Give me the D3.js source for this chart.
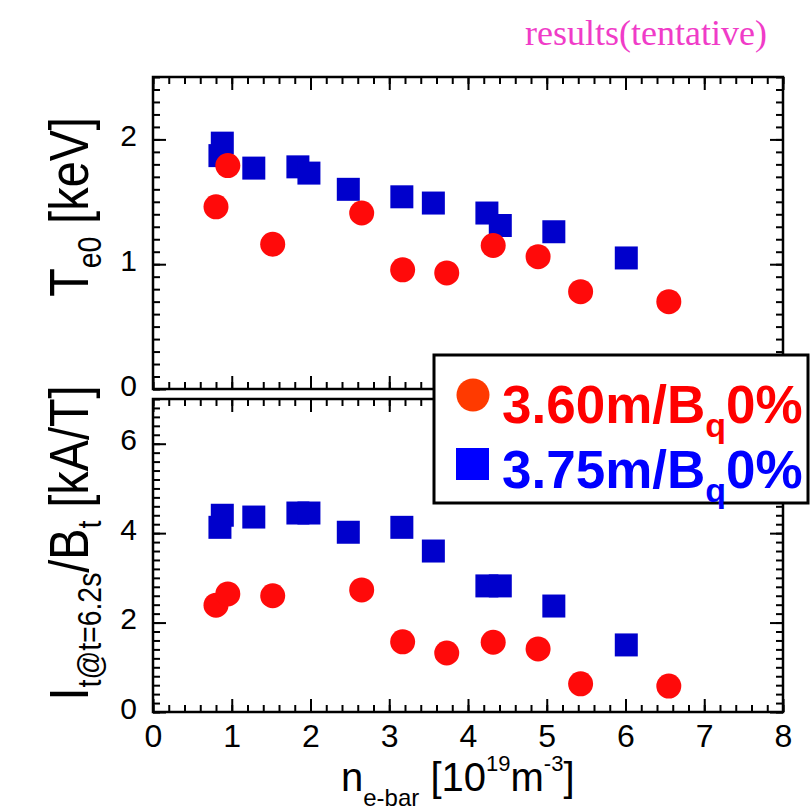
<!DOCTYPE html>
<html>
<head>
<meta charset="utf-8">
<script src="https://cdn.jsdelivr.net/npm/d3@7"></script>
<style>
  html, body { margin: 0; padding: 0; background: #fff; }
  svg { display: block; font-family: "Liberation Sans", Arial, sans-serif; }
</style>
</head>
<body>
<svg id="chart" width="812" height="811"></svg>
<script>
// Line-averaged density n_e-bar [10^19 m^-3]
const neRed  = [0.80, 0.95, 1.52, 2.65, 3.17, 3.73, 4.32, 4.89, 5.43, 6.55];
const te0Red = [1.46, 1.79, 1.16, 1.41, 0.955, 0.93, 1.15, 1.06, 0.78, 0.70];
const itRed  = [2.39, 2.64, 2.60, 2.73, 1.57, 1.32, 1.56, 1.41, 0.63, 0.58];

const neBlue  = [0.85, 0.88, 1.28, 1.84, 1.98, 2.48, 3.16, 3.56, 4.24, 4.41, 5.09, 6.01];
const te0Blue = [1.87, 1.97, 1.77, 1.78, 1.73, 1.60, 1.54, 1.49, 1.41, 1.31, 1.26, 1.05];
const itBlue  = [4.13, 4.40, 4.36, 4.45, 4.45, 4.02, 4.13, 3.60, 2.82, 2.82, 2.37, 1.50];

const xTicks = [0, 1, 2, 3, 4, 5, 6, 7, 8];
const teTicks = [0, 1, 2];
const itTicks = [0, 2, 4, 6];
const seriesNames = ["3.60m/B", "3.75m/B"];

const svg = d3.select("#chart");

const left = 153, right = 783;
const x = d3.scaleLinear().domain([0, 8]).range([left, right]);

const panels = [
  { top: 77,  bottom: 389, max: 2.5, minorStep: 0.1, ticks: teTicks, red: te0Red, blue: te0Blue },
  { top: 399, bottom: 712, max: 7.0, minorStep: 0.2, ticks: itTicks, red: itRed,  blue: itBlue }
];

const xMinor = d3.range(0, 41).map(i => +(i * 0.2).toFixed(2));

function styleAxis(g) {
  g.select(".domain").remove();
  g.selectAll(".tick line").attr("stroke", "#000").attr("stroke-width", 2);
  g.selectAll(".tick text").remove();
}

panels.forEach(p => {
  const y = d3.scaleLinear().domain([0, p.max]).range([p.bottom, p.top]);
  const nMinor = Math.round(p.max / p.minorStep);
  const yMinor = d3.range(0, nMinor + 1).map(i => +(i * p.minorStep).toFixed(2));

  const g = svg.append("g");

  // tick marks on all four sides, pointing inward
  [[d3.axisRight, left], [d3.axisLeft, right]].forEach(([ax, pos]) => {
    g.append("g").attr("transform", `translate(${pos},0)`)
      .call(ax(y).tickValues(yMinor).tickSize(7)).call(styleAxis);
    g.append("g").attr("transform", `translate(${pos},0)`)
      .call(ax(y).tickValues(p.ticks).tickSize(13)).call(styleAxis);
  });
  [[d3.axisBottom, p.top], [d3.axisTop, p.bottom]].forEach(([ax, pos]) => {
    g.append("g").attr("transform", `translate(0,${pos})`)
      .call(ax(x).tickValues(xMinor).tickSize(7)).call(styleAxis);
    g.append("g").attr("transform", `translate(0,${pos})`)
      .call(ax(x).tickValues(xTicks).tickSize(13)).call(styleAxis);
  });

  // frame
  g.append("rect")
    .attr("x", left).attr("y", p.top)
    .attr("width", right - left).attr("height", p.bottom - p.top)
    .attr("fill", "none").attr("stroke", "#000").attr("stroke-width", 2.5);

  // y tick labels
  const lab = g.append("g").attr("transform", `translate(${left},0)`)
    .call(d3.axisLeft(y).tickValues(p.ticks).tickSize(0).tickPadding(16).tickFormat(d3.format("d")));
  lab.select(".domain").remove();
  lab.selectAll("text")
    .attr("font-size", 30).attr("font-family", "Liberation Sans, Arial, sans-serif")
    .attr("fill", "#000").attr("dy", 6);

  // squares
  const sq = 23;
  g.append("g").selectAll("rect")
    .data(neBlue.map((v, i) => [v, p.blue[i]]))
    .join("rect")
    .attr("x", d => x(d[0]) - sq / 2).attr("y", d => y(d[1]) - sq / 2)
    .attr("width", sq).attr("height", sq)
    .attr("fill", "#0000cc");

  // circles
  g.append("g").selectAll("circle")
    .data(neRed.map((v, i) => [v, p.red[i]]))
    .join("circle")
    .attr("cx", d => x(d[0])).attr("cy", d => y(d[1]))
    .attr("r", 12.5)
    .attr("fill", "#ff0a0a");
});

// x tick labels under the lower panel
const xl = svg.append("g").attr("transform", `translate(0,${panels[1].bottom})`)
  .call(d3.axisBottom(x).tickValues(xTicks).tickSize(0).tickFormat(d3.format("d")));
xl.select(".domain").remove();
xl.selectAll("text")
  .attr("y", 35).attr("dy", 0)
  .attr("font-size", 32).attr("font-family", "Liberation Sans, Arial, sans-serif")
  .attr("fill", "#000");

// x axis title
const xt = svg.append("text")
  .attr("x", 341).attr("y", 791)
  .attr("font-size", 40).attr("fill", "#000");
xt.append("tspan").text("n");
xt.append("tspan").attr("font-size", 24).attr("dy", 15).text("e-bar");
xt.append("tspan").attr("dy", -15).text(" [10");
xt.append("tspan").attr("font-size", 22).attr("dy", -20).text("19");
xt.append("tspan").attr("dy", 20).text("m");
xt.append("tspan").attr("font-size", 22).attr("dy", -20).text("-3");
xt.append("tspan").attr("dy", 20).text("]");

// y axis titles (rotated)
function yTitle(cy, build) {
  const t = svg.append("g")
    .attr("transform", `translate(88,${cy}) rotate(-90) scale(0.835,1)`)
    .append("text")
    .attr("text-anchor", "middle")
    .attr("font-size", 56).attr("fill", "#000");
  build(t);
}
yTitle(207, t => {
  t.append("tspan").text("T");
  t.append("tspan").attr("font-size", 34).attr("dy", 13).text("e0");
  t.append("tspan").attr("dy", -13).text(" [keV]");
});
yTitle(543, t => {
  t.append("tspan").text("I");
  t.append("tspan").attr("font-size", 34).attr("dy", 13).text("t@t=6.2s");
  t.append("tspan").attr("dy", -13).text("/B");
  t.append("tspan").attr("font-size", 34).attr("dy", 13).text("t");
  t.append("tspan").attr("dy", -13).text(" [kA/T]");
});

// legend
const lg = svg.append("g").attr("transform", "translate(434,355)");
lg.append("rect").attr("width", 374).attr("height", 148)
  .attr("fill", "#fff").attr("stroke", "#000").attr("stroke-width", 3);
const legendItems = [
  { name: seriesNames[0], color: "#ff0000", mark: "circle", markColor: "#ff3a00", y: 68 },
  { name: seriesNames[1], color: "#0000ff", mark: "square", markColor: "#0000ff", y: 133 }
];
legendItems.forEach(it => {
  if (it.mark === "circle") {
    lg.append("circle").attr("cx", 39).attr("cy", it.y - 28).attr("r", 16.5).attr("fill", it.markColor);
  } else {
    lg.append("rect").attr("x", 22).attr("y", it.y - 40).attr("width", 33).attr("height", 32).attr("fill", it.markColor);
  }
  const t = lg.append("text").attr("x", 68).attr("y", it.y)
    .attr("font-size", 53).attr("font-weight", "bold").attr("fill", it.color);
  t.append("tspan").text(it.name);
  t.append("tspan").attr("font-size", 34).attr("dy", 14).text("q");
  t.append("tspan").attr("dy", -14).text("0%");
});

// heading
svg.append("text")
  .attr("x", 767).attr("y", 45).attr("text-anchor", "end")
  .attr("font-family", "Liberation Serif, Times New Roman, serif")
  .attr("font-size", 36).attr("fill", "#f03cc8")
  .text("results(tentative)");
</script>
</body>
</html>
